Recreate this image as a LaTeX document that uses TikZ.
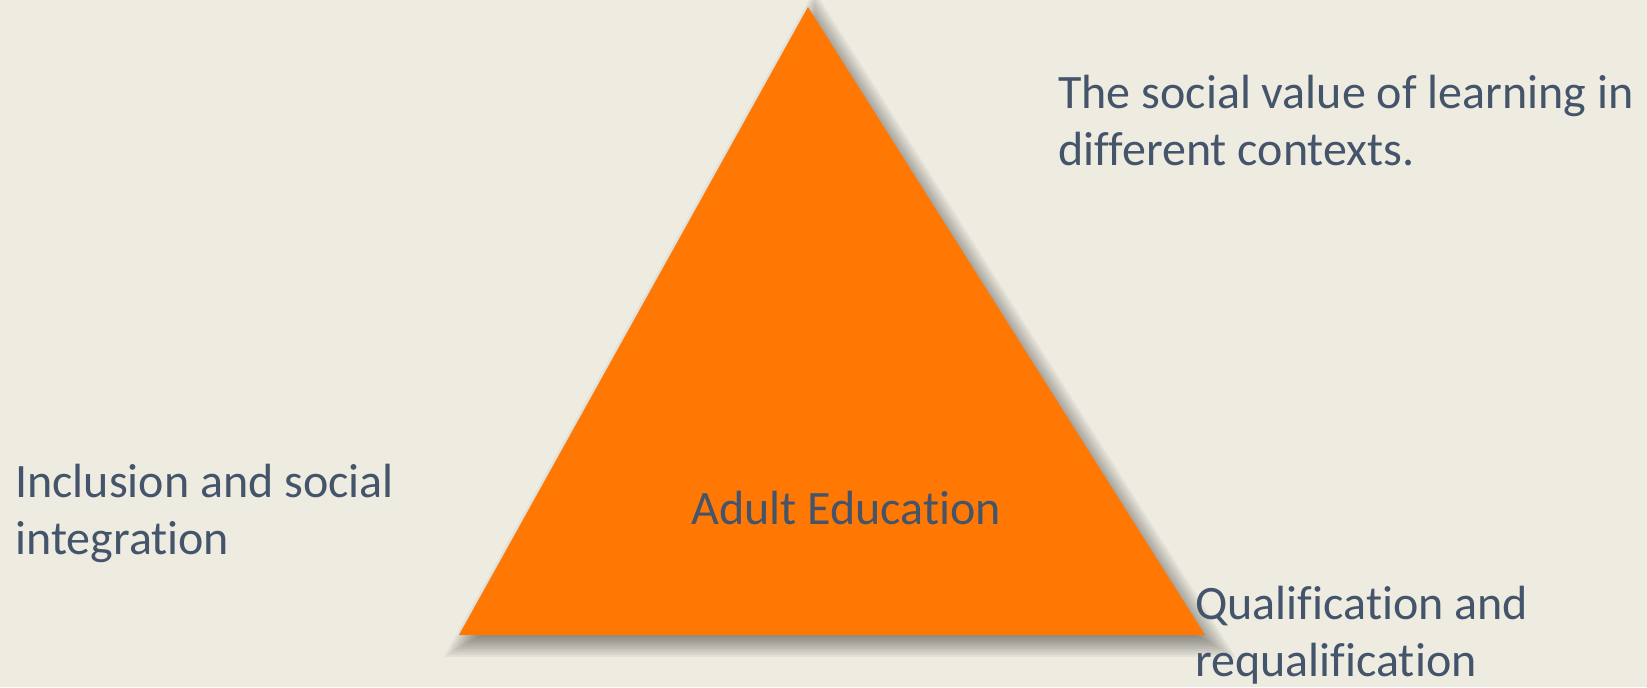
\documentclass[tikz,border=0pt]{standalone}
\usepackage{fontspec}
\setmainfont{Carlito}[Ligatures=NoCommon]

\definecolor{paper}{HTML}{EEECE1}
\definecolor{slate}{HTML}{44546A}
\definecolor{tangerine}{HTML}{FF7804}

\tikzset{
  % base west sits on the last line of a two-line label
  label text/.style={anchor=base west, align=left, text=slate, inner sep=0pt,
    font=\fontsize{24}{28.5}\selectfont},
  shadow layer/.style={fill=black, opacity=0.045},
}

\begin{document}
\begin{tikzpicture}[x=0.5pt, y=-0.5pt]
  % page
  \fill [paper] (0, 0) rectangle (1647, 687);
  \useasboundingbox (0, 0) rectangle (1647, 687);
  % soft shadow: stacked copies grown and shrunk about the incentre
  \foreach \d [evaluate=\d as \s using 1+\d/212] in {-13,-11,...,13}
    \fill [shadow layer, shift={(7, 9)}, scale around={\s:(819.7, 422.8)}]
      (808, 7) -- (1205, 635) -- (459, 635) -- cycle;
  % triangle corners
  \coordinate (apex) at (808, 7);
  \coordinate (left) at (459, 635);
  \coordinate (right) at (1205, 635);
  % the triangle
  \fill [tangerine] (apex) -- (right) -- (left) -- cycle;
  % middle label
  \node [label text] (adult) at (691, 524) {Adult Education};
  % corner labels
  \node [label text] (social) at (1058, 165) {The social value of learning in\\different contexts.};
  \node [label text] (inclusion) at (15, 554) {Inclusion and social\\integration};
  \node [label text] (qualif) at (1195, 676) {Qualification and\\requalification};
\end{tikzpicture}
\end{document}
